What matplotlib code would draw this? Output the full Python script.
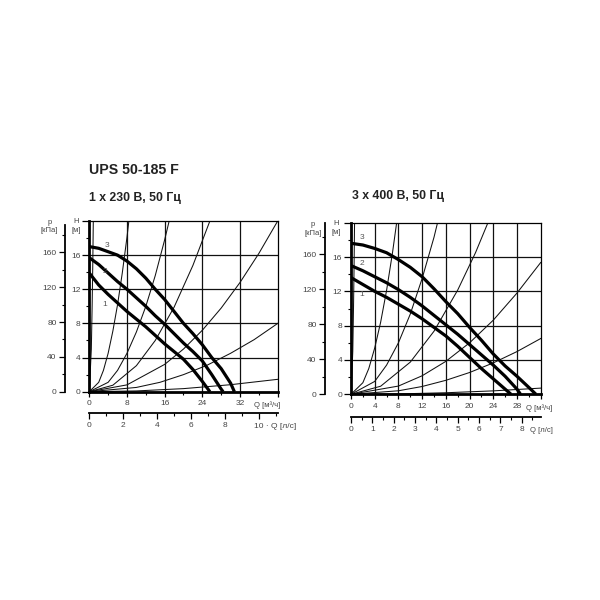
import matplotlib
matplotlib.use('Agg')
import matplotlib.pyplot as plt

plt.rcParams['font.family'] = ['Liberation Sans', 'DejaVu Sans']

# ---------------- data ----------------
title = 'UPS 50-185 F'
sub_left = '1 x 230 В, 50 Гц'
sub_right = '3 x 400 В, 50 Гц'

# left chart (1 x 230 V) pump curves: Q [m3/h], H [m]
L_q1 = [0, 2, 4, 6, 8, 10, 12, 14, 16, 18, 20, 22, 24, 25.6]
L_h1 = [13.9, 12.5, 11.4, 10.4, 9.4, 8.5, 7.6, 6.6, 5.6, 4.7, 3.8, 2.6, 1.2, 0]
L_q2 = [0, 2, 4, 6, 8, 10, 12, 14, 16, 18, 20, 22, 24, 26, 28, 28.4]
L_h2 = [15.7, 14.9, 13.9, 12.9, 12.0, 11.0, 10.0, 8.9, 7.9, 6.8, 5.7, 4.7, 3.6, 2.0, 0.3, 0]
L_q3 = [0, 2, 4, 6, 8, 10, 12, 14, 16, 18, 20, 22, 24, 26, 28, 30, 30.8]
L_h3 = [17.0, 16.8, 16.4, 16.0, 15.3, 14.4, 13.3, 12.0, 10.8, 9.4, 8.0, 6.8, 5.5, 4.0, 2.7, 1.0, 0]

# left chart system curves
L_s0q = [0, 0.43, 0.6, 0.74, 0.85]
L_s0h = [0, 5, 10, 15, 20]
L_s1q = [0, 2, 3, 4, 5, 6, 7, 8, 8.4]
L_s1h = [0, 1.1, 2.5, 4.5, 7.1, 10.2, 13.9, 18.1, 20]
L_s2q = [0, 4, 6, 8, 10, 12, 14, 16, 17]
L_s2h = [0, 1.1, 2.5, 4.5, 7.0, 10.0, 13.6, 17.8, 20.1]
L_s3q = [0, 5, 10, 14, 18, 22, 25.6]
L_s3h = [0, 0.76, 3.05, 6.0, 9.9, 14.8, 20]
L_s4q = [0, 8, 16, 20, 24, 28, 32, 36, 40]
L_s4h = [0, 0.8, 3.2, 5.0, 7.2, 9.8, 12.8, 16.2, 20]
L_s5q = [0, 10, 15, 20, 25, 30, 35, 40]
L_s5h = [0, 0.5, 1.1, 2.0, 3.1, 4.5, 6.1, 8.0]
L_s6q = [0, 10, 20, 30, 40]
L_s6h = [0, 0.09, 0.36, 0.82, 1.45]

# right chart (3 x 400 V) pump curves
R_q1 = [0, 2, 4, 6, 8, 10, 12, 14, 16, 18, 20, 22, 24, 26, 27]
R_h1 = [13.6, 12.8, 12.0, 11.3, 10.5, 9.7, 8.8, 7.8, 6.8, 5.6, 4.3, 3.0, 1.8, 0.6, 0]
R_q2 = [0, 2, 4, 6, 8, 10, 12, 14, 16, 18, 20, 22, 24, 26, 28, 28.6]
R_h2 = [15.0, 14.4, 13.7, 13.0, 12.2, 11.3, 10.3, 9.2, 8.1, 7.0, 5.8, 4.6, 3.4, 2.1, 0.6, 0]
R_q3 = [0, 2, 4, 6, 8, 10, 12, 14, 16, 18, 20, 22, 24, 26, 28, 30, 31.2]
R_h3 = [17.6, 17.4, 17.0, 16.5, 15.7, 14.8, 13.7, 12.3, 10.8, 9.4, 7.8, 6.3, 4.7, 3.3, 2.1, 0.8, 0]

# right chart system curves
R_s0q = [0, 0.3, 0.42, 0.52, 0.6]
R_s0h = [0, 5, 10, 15, 20]
R_s1q = [0, 2, 3, 4, 5, 6, 7, 7.7]
R_s1h = [0, 1.35, 3.0, 5.4, 8.4, 12.1, 16.5, 20]
R_s2q = [0, 4, 6, 8, 10, 12, 14, 14.6]
R_s2h = [0, 1.5, 3.4, 6.0, 9.35, 13.5, 18.3, 20]
R_s3q = [0, 5, 10, 14, 18, 21, 23.1]
R_s3h = [0, 0.94, 3.75, 7.35, 12.15, 16.5, 20]
R_s4q = [0, 8, 12, 16, 20, 24, 28, 32]
R_s4h = [0, 0.96, 2.16, 3.84, 6.0, 8.64, 11.8, 15.36]
R_s5q = [0, 8, 12, 16, 20, 24, 28, 32]
R_s5h = [0, 0.41, 0.91, 1.63, 2.54, 3.66, 4.98, 6.5]
R_s6q = [0, 8, 16, 24, 32]
R_s6h = [0, 0.045, 0.18, 0.40, 0.72]

curve_names = ['1', '2', '3']
L_lab_q = [3.3, 3.3, 3.7]
L_lab_h = [10.2, 14.1, 17.1]
R_lab_q = [1.8, 1.8, 1.9]
R_lab_h = [11.6, 15.2, 18.3]

H_ticks = [0, 4, 8, 12, 16, 20]
H_labels = ['0', '4', '8', '12', '16', '']
H_minor = [2, 6, 10, 14, 18]
p_ticks = [0, 40, 80, 120, 160]
p_minor = [20, 60, 100, 140, 180]

L_q_ticks = [0, 8, 16, 24, 32, 40]
L_q_labels = ['0', '8', '16', '24', '32', '']
L_q_minor = [4, 12, 20, 28, 36]
L_ls_ticks = [0, 2, 4, 6, 8, 10]
L_ls_labels = ['0', '2', '4', '6', '8', '']
L_ls_minor = [1, 3, 5, 7, 9, 11]

R_q_ticks = [0, 4, 8, 12, 16, 20, 24, 28, 32]
R_q_labels = ['0', '4', '8', '12', '16', '20', '24', '28', '']
R_q_minor = [2, 6, 10, 14, 18, 22, 26, 30]
R_ls_ticks = [0, 1, 2, 3, 4, 5, 6, 7, 8]
R_ls_labels = ['0', '1', '2', '3', '4', '5', '6', '7', '8']
R_ls_minor = [0.5, 1.5, 2.5, 3.5, 4.5, 5.5, 6.5, 7.5, 8.5]

# ---------------- drawing ----------------
W = H_PX = 600
fig = plt.figure(figsize=(6, 6), dpi=100)
fig.patch.set_facecolor('white')

TXT = '#222222'
TICK = '#444444'


def fx(px):
    return px / W


def fy(py):
    return 1 - py / H_PX


def draw(rect, qmax, pumps, systems, lab_q, lab_h, q_ticks, q_labels, q_minor,
         ls_ticks, ls_labels, ls_minor, p_loc, ls_loc, p_top):
    ax = fig.add_axes(rect)
    ax.set_xlim(0, qmax)
    ax.set_ylim(0, 20)
    for x in q_ticks[1:-1]:
        ax.axvline(x, color='#111111', lw=0.9, zorder=1)
    for y in H_ticks[1:-1]:
        ax.axhline(y, color='#111111', lw=0.9, zorder=1)
    for q, h in systems:
        ax.plot(q, h, color='#111111', lw=0.75, zorder=2)
    for q, h in pumps:
        ax.plot(q, h, color='black', lw=2.3, zorder=3, solid_capstyle='butt')
    for name, q, h in zip(curve_names, lab_q, lab_h):
        ax.text(q, h, name, fontsize=6, color='#555555', ha='center', va='center', zorder=4)

    for s in ['top', 'right']:
        ax.spines[s].set_linewidth(0.9)
    for s in ['left', 'bottom']:
        ax.spines[s].set_linewidth(2.0)
        ax.spines[s].set_zorder(5)

    ax.set_yticks(H_ticks)
    ax.set_yticklabels(H_labels)
    ax.set_yticks(H_minor, minor=True)
    ax.tick_params(axis='y', which='major', length=5, width=0.9, pad=1.5,
                   labelsize=6, labelcolor=TICK)
    ax.tick_params(axis='y', which='minor', length=2.5, width=0.8)

    ax.set_xticks(q_ticks)
    ax.set_xticklabels(q_labels)
    ax.set_xticks(q_minor, minor=True)
    ax.tick_params(axis='x', which='major', length=3.5, width=0.9, pad=2.5,
                   labelsize=6, labelcolor=TICK)
    ax.tick_params(axis='x', which='minor', length=2.5, width=0.8)

    # pressure axis
    sp = ax.secondary_yaxis(p_loc, functions=(lambda h: h * 9.81, lambda p: p / 9.81))
    sp.set_yticks(p_ticks)
    sp.set_yticklabels([str(v) for v in p_ticks])
    sp.set_yticks(p_minor, minor=True)
    sp.spines['left'].set_bounds(0, p_top)
    sp.spines['left'].set_linewidth(1.3)
    sp.tick_params(axis='y', which='major', length=4.5, width=0.9, pad=1.5,
                   labelsize=6, labelcolor=TICK)
    sp.tick_params(axis='y', which='minor', length=2.2, width=0.8)

    # l/s axis
    sl = ax.secondary_xaxis(ls_loc, functions=(lambda q: q / 3.6, lambda s: s * 3.6))
    sl.set_xticks(ls_ticks)
    sl.set_xticklabels(ls_labels)
    sl.set_xticks(ls_minor, minor=True)
    sl.spines['bottom'].set_linewidth(1.3)
    sl.tick_params(axis='x', which='major', length=4, width=0.9, pad=2.5,
                   labelsize=6, labelcolor=TICK)
    sl.tick_params(axis='x', which='minor', length=2.5, width=0.8)
    return ax


axL = draw([fx(89.3), fy(391.7), fx(277.7 - 89.3), (391.7 - 221) / H_PX], 40,
           [(L_q1, L_h1), (L_q2, L_h2), (L_q3, L_h3)],
           [(L_s0q, L_s0h), (L_s1q, L_s1h), (L_s2q, L_s2h), (L_s3q, L_s3h),
            (L_s4q, L_s4h), (L_s5q, L_s5h), (L_s6q, L_s6h)],
           L_lab_q, L_lab_h, L_q_ticks, L_q_labels, L_q_minor,
           L_ls_ticks, L_ls_labels, L_ls_minor, -0.129, -0.127, 192)

axR = draw([fx(351), fy(394.3), fx(540.7 - 351), (394.3 - 222.7) / H_PX], 32,
           [(R_q1, R_h1), (R_q2, R_h2), (R_q3, R_h3)],
           [(R_s0q, R_s0h), (R_s1q, R_s1h), (R_s2q, R_s2h), (R_s3q, R_s3h),
            (R_s4q, R_s4h), (R_s5q, R_s5h), (R_s6q, R_s6h)],
           R_lab_q, R_lab_h, R_q_ticks, R_q_labels, R_q_minor,
           R_ls_ticks, R_ls_labels, R_ls_minor, -0.137, -0.131, 196)

# titles
fig.text(fx(89), fy(170), title, fontsize=10.2, fontweight='bold', color=TXT,
         ha='left', va='center')
fig.text(fx(89), fy(198), sub_left, fontsize=8.8, fontweight='bold', color=TXT,
         ha='left', va='center')
fig.text(fx(352), fy(196), sub_right, fontsize=8.8, fontweight='bold', color=TXT,
         ha='left', va='center')

# axis labels
small = dict(fontsize=5.5, color=TICK, ha='center', va='center')
for xp, xh, y0 in [(49.5, 76, 222), (312.7, 336.5, 224.5)]:
    fig.text(fx(xp), fy(y0), 'p', **small)
    fig.text(fx(xp), fy(y0 + 9), '[кПа]', **small)
    fig.text(fx(xh), fy(y0 - 1), 'H', **small)
    fig.text(fx(xh), fy(y0 + 8.5), '[м]', **small)

lab = dict(fontsize=5.5, color=TICK, ha='left', va='center')
fig.text(fx(254), fy(405.5), 'Q [м³/ч]', **lab)
fig.text(fx(254), fy(426.5), '10 · Q [л/с]', fontsize=6, color=TICK, ha='left', va='center')
fig.text(fx(526.5), fy(408), 'Q [м³/ч]', **lab)
fig.text(fx(530), fy(430.7), 'Q [л/с]', **lab)

fig.savefig('out.png', dpi=100, facecolor='white')
